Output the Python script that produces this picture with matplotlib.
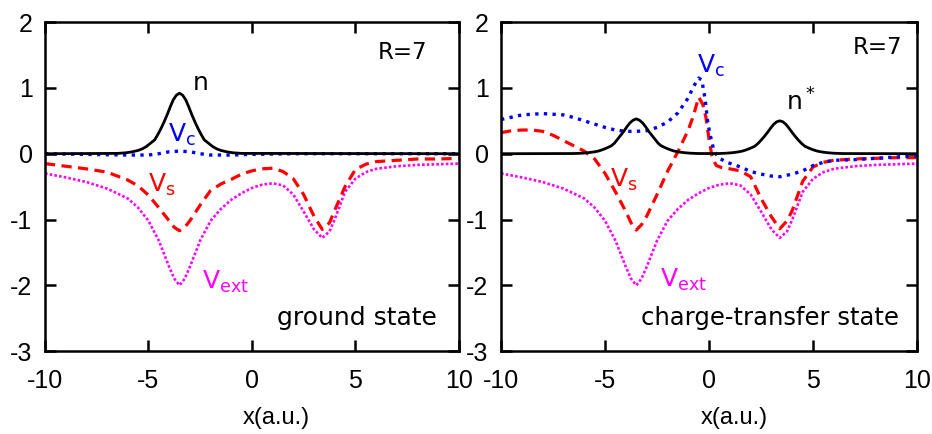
import numpy as np
import matplotlib.pyplot as plt

# ---- data ----
# external potential (same in both panels)
x_ext = [-10, -9, -8, -7, -6, -5.5, -5, -4.5, -4, -3.75, -3.5, -3.25, -3, -2.5, -2,
         -1.5, -1, -0.5, 0, 0.5, 1, 1.5, 2, 2.5, 3, 3.4, 3.75, 4, 4.5, 5, 5.5, 6, 7, 8, 9, 10]
v_ext = [-0.30, -0.36, -0.43, -0.53, -0.68, -0.82, -1.02, -1.32, -1.72, -1.90, -2.00, -1.90,
         -1.72, -1.32, -1.02, -0.84, -0.70, -0.60, -0.52, -0.47, -0.45, -0.48, -0.62, -0.88,
         -1.15, -1.28, -1.18, -1.00, -0.58, -0.38, -0.28, -0.23, -0.19, -0.17, -0.16, -0.15]

# ground state
x_n = [-10, -6.5, -6.1, -5.8, -5.5, -5.3, -5.1, -4.9, -4.7, -4.55, -4.4, -4.25, -4.1,
       -3.95, -3.8, -3.65, -3.5, -3.35, -3.2, -3.05, -2.9, -2.75, -2.6, -2.45, -2.3,
       -2.1, -1.9, -1.7, -1.5, -1.2, -0.9, -0.5, 10]
n_gs = [0, 0.005, 0.014, 0.028, 0.05, 0.074, 0.11, 0.16, 0.21, 0.29, 0.38, 0.48, 0.59,
        0.71, 0.82, 0.89, 0.92, 0.89, 0.82, 0.71, 0.59, 0.48, 0.38, 0.29, 0.21,
        0.16, 0.11, 0.074, 0.05, 0.028, 0.014, 0.005, 0]

x_vs_gs = [-10, -9, -8, -7, -6, -5.5, -5, -4.5, -4, -3.75, -3.5, -3.25, -3, -2.5, -2,
           -1.5, -1, -0.5, 0, 0.5, 1, 1.5, 2, 2.5, 3, 3.4, 3.75, 4, 4.5, 5, 5.5, 6, 7, 8, 9, 10]
vs_gs = [-0.15, -0.19, -0.23, -0.28, -0.40, -0.49, -0.63, -0.82, -1.02, -1.12, -1.17, -1.12,
         -1.02, -0.78, -0.56, -0.46, -0.39, -0.31, -0.26, -0.23, -0.22, -0.27, -0.38, -0.62,
         -0.95, -1.15, -1.05, -0.86, -0.50, -0.24, -0.16, -0.12, -0.10, -0.08, -0.08, -0.07]

x_vc_gs = [-10, -8, -6, -5, -4.5, -4, -3.5, -3, -2.5, -2, -1, 0, 2, 10]
vc_gs = [0.0, -0.01, -0.02, -0.02, 0.0, 0.03, 0.04, 0.03, 0.0, -0.02, -0.02, -0.01, 0.0, 0.0]

# charge-transfer state
x_n_ct = [-10, -6.5, -6.1, -5.8, -5.5, -5.3, -5.1, -4.9, -4.7, -4.55, -4.4, -4.25, -4.1,
          -3.95, -3.8, -3.65, -3.5, -3.35, -3.2, -3.05, -2.9, -2.75, -2.6, -2.45, -2.3,
          -2.1, -1.9, -1.7, -1.5, -1.2, -0.9, -0.5,
          0.4, 0.8, 1.1, 1.4, 1.6, 1.8, 2.0, 2.2, 2.35, 2.5, 2.65, 2.8, 2.95, 3.1, 3.25,
          3.4, 3.55, 3.7, 3.85, 4.0, 4.15, 4.3, 4.45, 4.6, 4.8, 5.0, 5.2, 5.4, 5.7, 6.0,
          6.4, 10]
n_ct = [0, 0.003, 0.008, 0.016, 0.029, 0.042, 0.064, 0.09, 0.12, 0.16, 0.22, 0.28, 0.34,
        0.41, 0.47, 0.51, 0.53, 0.51, 0.47, 0.41, 0.34, 0.28, 0.22, 0.16, 0.12,
        0.09, 0.064, 0.042, 0.029, 0.016, 0.008, 0.003,
        0.0025, 0.0075, 0.015, 0.0275, 0.04, 0.06, 0.085, 0.115, 0.155, 0.205, 0.26, 0.32,
        0.385, 0.445, 0.485, 0.50, 0.485, 0.445, 0.385, 0.32, 0.26, 0.205, 0.155, 0.115,
        0.085, 0.06, 0.04, 0.0275, 0.015, 0.0075, 0.0025, 0]

x_vs_ct = [-10, -9.5, -9, -8.5, -8, -7.5, -7, -6.5, -6, -5.5, -5, -4.5, -4, -3.75, -3.5,
           -3.25, -3, -2.5, -2, -1.5, -1, -0.75, -0.5, -0.3, -0.15, 0, 0.15, 0.35, 0.6,
           1, 1.5, 2, 2.5, 3, 3.4, 3.75, 4, 4.5, 5, 5.5, 6, 7, 8, 9, 10]
vs_ct = [0.32, 0.35, 0.36, 0.36, 0.34, 0.28, 0.20, 0.12, 0.04, -0.08, -0.30, -0.58, -0.88,
         -1.05, -1.16, -1.08, -0.95, -0.62, -0.27, 0.03, 0.36, 0.58, 0.86, 0.75, 0.55, 0.22,
         -0.06, -0.18, -0.21, -0.23, -0.26, -0.35, -0.68, -0.96, -1.14, -1.02, -0.86, -0.42,
         -0.20, -0.13, -0.10, -0.08, -0.07, -0.06, -0.06]

x_vc_ct = [-10, -9, -8, -7, -6.5, -6, -5.5, -5, -4.5, -4, -3.5, -3, -2.5, -2, -1.5, -1,
           -0.75, -0.5, -0.35, -0.2, -0.05, 0.1, 0.25, 0.5, 0.85, 1.5, 2, 2.5, 3, 3.4, 4,
           4.5, 5, 5.5, 6, 7, 8, 9, 10]
vc_ct = [0.52, 0.59, 0.61, 0.59, 0.55, 0.50, 0.45, 0.40, 0.36, 0.34, 0.34, 0.35, 0.40,
         0.48, 0.62, 0.85, 1.02, 1.15, 1.12, 0.85, 0.45, 0.22, 0.03, -0.07, -0.13, -0.20,
         -0.27, -0.31, -0.34, -0.35, -0.31, -0.26, -0.18, -0.13, -0.10, -0.09, -0.07,
         -0.05, -0.03]

x_ticks = [-10, -5, 0, 5, 10]
y_ticks = [-3, -2, -1, 0, 1, 2]

RED, BLUE, MAG = '#ff0000', '#0000ff', '#ff00ff'
TICK_FONT = ['Liberation Sans Narrow', 'Liberation Sans']

plt.rcParams['font.family'] = 'DejaVu Sans'
plt.rcParams['mathtext.fontset'] = 'dejavusans'
plt.rcParams['axes.unicode_minus'] = False

fig = plt.figure(figsize=(9.32, 4.34), dpi=100)
ax1 = fig.add_axes([0.0483, 0.191, 0.444, 0.758])
ax2 = fig.add_axes([0.5376, 0.191, 0.4464, 0.758])


def draw(ax, xn, n, xvs, vs, xvc, vc):
    ax.plot(x_ext, v_ext, color=MAG, lw=1.9, ls=(0, (1, 0.8)))
    ax.plot(xvs, vs, color=RED, lw=2.3, ls=(0, (3.2, 2)))
    ax.plot(xvc, vc, color=BLUE, lw=2.4, ls=(0, (1, 1.6)))
    ax.plot(xn, n, color='black', lw=2.0)
    ax.set_xlim(-10, 10)
    ax.set_ylim(-3, 2)
    ax.set_xticks(x_ticks, [str(t) for t in x_ticks], fontsize=18, family=TICK_FONT)
    ax.set_yticks(y_ticks, [str(t) for t in y_ticks], fontsize=18, family=TICK_FONT)
    ax.tick_params(direction='in', length=8, width=1.8, top=True, right=True)
    ax.tick_params(axis='x', pad=13)
    ax.tick_params(axis='y', pad=9)
    for s in ax.spines.values():
        s.set_linewidth(1.8)
    ax.set_xlabel('x(a.u.)', fontsize=17, family=TICK_FONT)
    ax.xaxis.set_label_coords(0.56, -0.17)


draw(ax1, x_n, n_gs, x_vs_gs, vs_gs, x_vc_gs, vc_gs)
draw(ax2, x_n_ct, n_ct, x_vs_ct, vs_ct, x_vc_ct, vc_ct)

fs = 18
ax1.text(-2.5, 1.08, 'n', fontsize=fs, ha='center', va='center')
ax1.text(-3.38, 0.28, r'$\mathrm{V_c}$', color=BLUE, fontsize=fs, ha='center', va='center')
ax1.text(-4.34, -0.48, r'$\mathrm{V_s}$', color=RED, fontsize=fs, ha='center', va='center')
ax1.text(-1.29, -1.95, r'$\mathrm{V_{ext}}$', color=MAG, fontsize=fs, ha='center', va='center')
ax1.text(7.3, 1.54, 'R=7', fontsize=16.5, ha='center', va='center')
ax1.text(5.06, -2.5, 'ground state', fontsize=18, ha='center', va='center')

ax2.text(0.07, 1.34, r'$\mathrm{V_c}$', color=BLUE, fontsize=fs, ha='center', va='center')
ax2.text(4.39, 0.78, r'$\mathrm{n^*}$', fontsize=fs, ha='center', va='center')
ax2.text(-4.1, -0.4, r'$\mathrm{V_s}$', color=RED, fontsize=fs, ha='center', va='center')
ax2.text(-1.22, -1.92, r'$\mathrm{V_{ext}}$', color=MAG, fontsize=fs, ha='center', va='center')
ax2.text(8.1, 1.62, 'R=7', fontsize=16.5, ha='center', va='center')
ax2.text(2.95, -2.5, 'charge-transfer state', fontsize=17.5, ha='center', va='center')

fig.savefig('out.png', dpi=100)
